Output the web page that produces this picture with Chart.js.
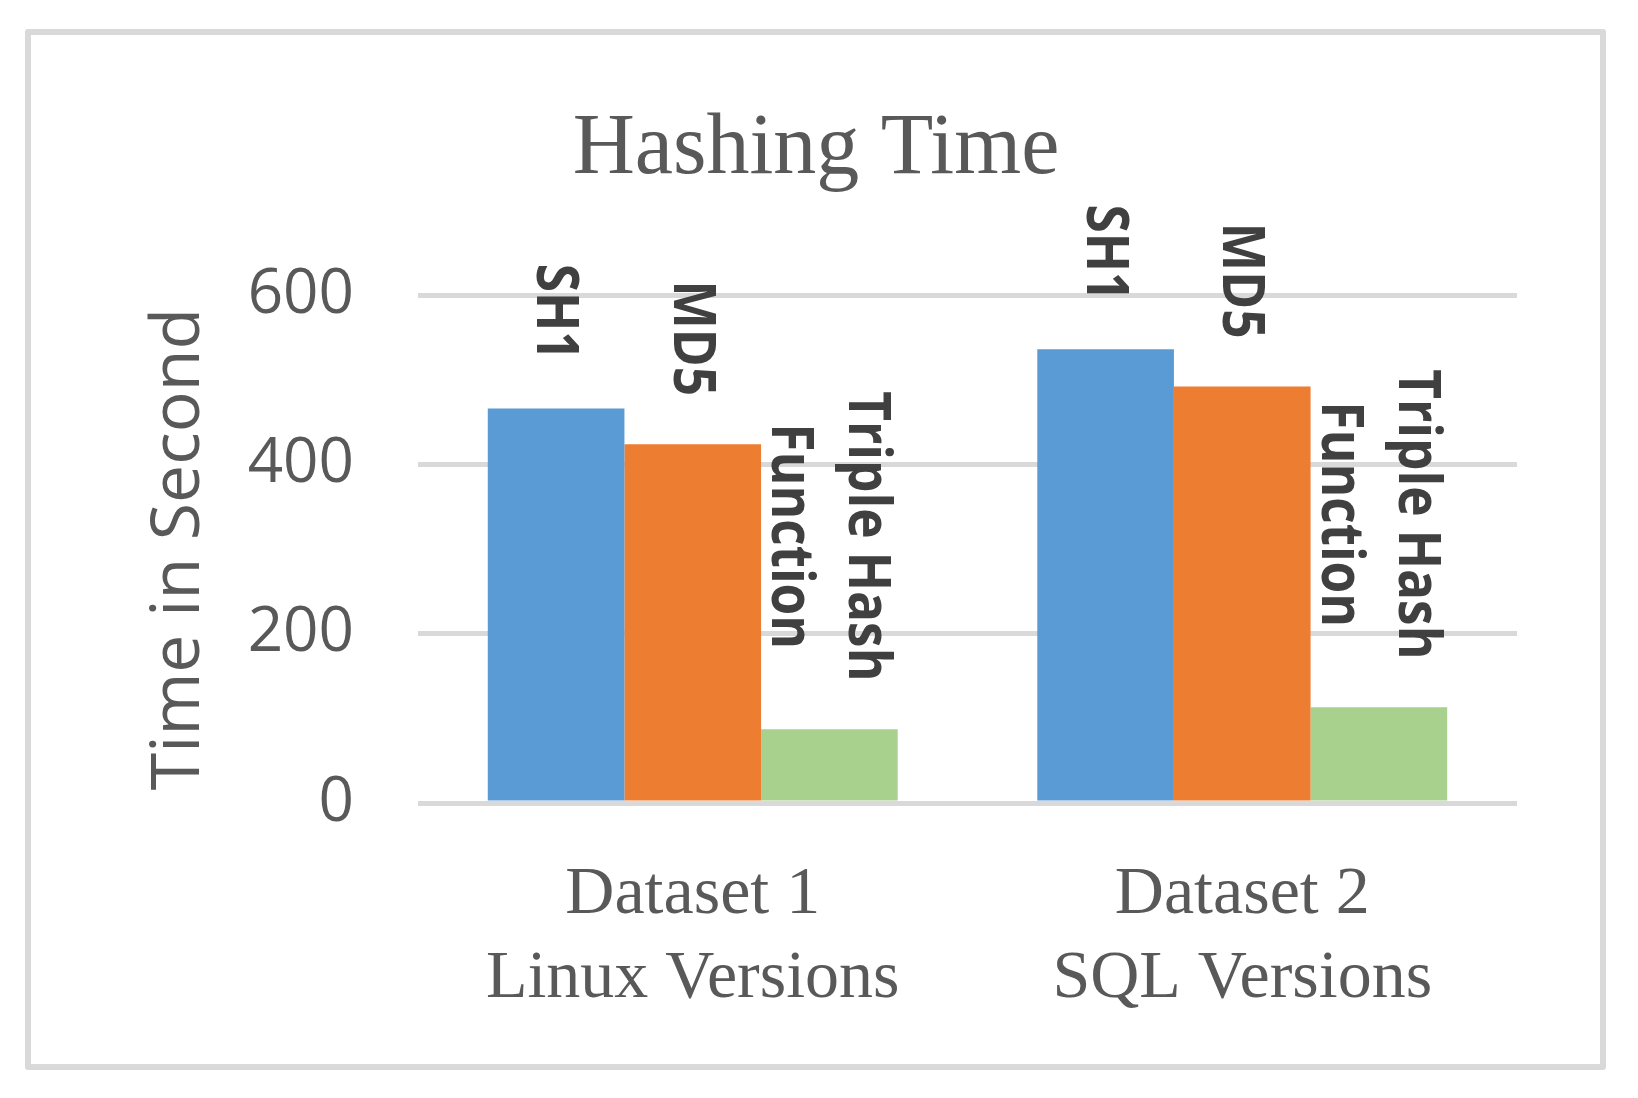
<!DOCTYPE html>
<html>
<head>
<meta charset="utf-8">
<script src="https://cdn.jsdelivr.net/npm/chart.js@4"></script>
<style>
  html, body { margin: 0; padding: 0; background: #ffffff; }
  #frame { position: absolute; left: 25px; top: 29px; width: 1581px; height: 1041px;
           box-sizing: border-box; border: 6px solid #d9d9d9; border-radius: 3px; }
  #wrap { position: absolute; left: 0; top: 0; width: 1638px; height: 1098px; }
</style>
</head>
<body>
<div id="frame"></div>
<div id="wrap"><canvas id="c" width="1638" height="1098"></canvas></div>
<script>
const chartTitle = "Hashing Time";
const yAxisTitle = "Time in Second";
const categories = [["Dataset 1", "Linux Versions"], ["Dataset 2", "SQL Versions"]];
const seriesNames = ["SH1", "MD5", "Triple Hash Function"];
const seriesLabelLines = [["SH1"], ["MD5"], ["Triple Hash", "Function"]];
const sh1Values = [466, 536];
const md5Values = [424, 492];
const tripleValues = [87, 113];
const yMin = 0, yMax = 600, yStep = 200;
const seriesColors = ["#5B9BD5", "#ED7D31", "#A9D18E"];

const labelPlugin = {
  id: 'rotatedSeriesLabels',
  afterDatasetsDraw(chart) {
    const ctx = chart.ctx;
    chart.data.datasets.forEach((ds, di) => {
      const meta = chart.getDatasetMeta(di);
      const lines = seriesLabelLines[di];
      meta.data.forEach((bar) => {
        ctx.save();
        ctx.font = 'bold 59px "Open Sans"';
        ctx.fillStyle = '#404040';
        ctx.textAlign = 'center';
        ctx.textBaseline = 'middle';
        ctx.translate(bar.x, bar.y - 48);
        ctx.rotate(Math.PI / 2);
        ctx.scale(0.87, 1);
        let w = 0;
        lines.forEach(l => { w = Math.max(w, ctx.measureText(l).width); });
        const n = lines.length;
        lines.forEach((l, i) => {
          ctx.fillText(l, -w / 2, (i - (n - 1) / 2) * 77 + 2);
        });
        ctx.restore();
      });
    });
  }
};

new Chart(document.getElementById('c'), {
  type: 'bar',
  data: {
    labels: categories,
    datasets: [
      { label: seriesNames[0], data: sh1Values, backgroundColor: seriesColors[0] },
      { label: seriesNames[1], data: md5Values, backgroundColor: seriesColors[1] },
      { label: seriesNames[2], data: tripleValues, backgroundColor: seriesColors[2] }
    ]
  },
  options: {
    responsive: false,
    animation: false,
    devicePixelRatio: 1,
    layout: { padding: { left: 115, right: 121, top: 0, bottom: 0 } },
    datasets: { bar: { categoryPercentage: 0.746, barPercentage: 1.0, borderWidth: 0 } },
    plugins: {
      legend: { display: false },
      tooltip: { enabled: false },
      title: {
        display: true,
        text: chartTitle,
        color: '#595959',
        font: { family: '"Liberation Serif", serif', size: 86, weight: 'normal', lineHeight: 1.2 },
        padding: { top: 99, bottom: 93 }
      }
    },
    scales: {
      x: {
        grid: { display: false, drawTicks: false },
        border: { display: false },
        ticks: {
          color: '#595959',
          padding: 50,
          font: { family: '"Liberation Serif", serif', size: 68, lineHeight: 1.235 }
        },
        afterFit(scale) { scale.height = 295; }
      },
      y: {
        min: yMin,
        max: yMax,
        ticks: {
          stepSize: yStep,
          color: '#595959',
          padding: 64,
          font: { family: '"Open Sans", sans-serif', size: 62 }
        },
        grid: { color: '#D9D9D9', lineWidth: 5, drawTicks: false },
        border: { display: false },
        title: {
          display: true,
          text: yAxisTitle,
          color: '#595959',
          font: { family: '"Open Sans", sans-serif', size: 68, lineHeight: 1.2 },
          padding: { top: 24, bottom: 0 }
        },
        afterFit(scale) { scale.width = 418 - 115; }
      }
    }
  },
  plugins: [labelPlugin]
});
</script>
</body>
</html>
